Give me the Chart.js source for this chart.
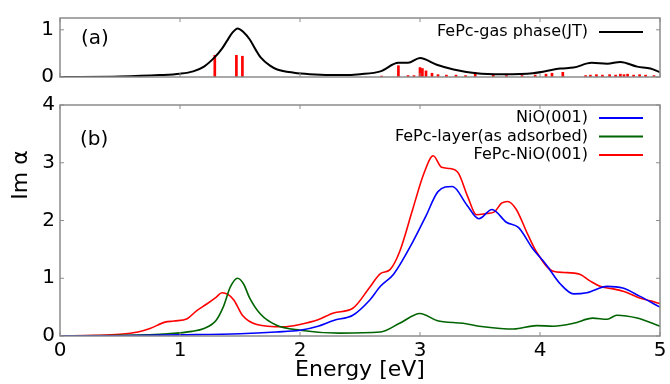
<!DOCTYPE html>
<html>
<head>
<meta charset="utf-8">
<script src="https://cdn.jsdelivr.net/npm/chart.js@4.4.1/dist/chart.umd.min.js"></script>
<style>
  html, body { margin: 0; padding: 0; background: #fff; overflow: hidden; }
  #wrap { position: relative; width: 670px; height: 384px; }
  #topBox { position: absolute; left: 0; top: 0; width: 670px; height: 100px; }
  #botBox { position: absolute; left: 0; top: 88px; width: 670px; height: 296px; }
</style>
</head>
<body>
<div id="wrap">
  <div id="topBox"><canvas id="chartA"></canvas></div>
  <div id="botBox"><canvas id="chartB"></canvas></div>
</div>
<script>
// panel (a): gas phase spectrum + oscillator sticks
const gasE = [0, 0.5, 0.83, 1.0, 1.11, 1.2, 1.29, 1.35, 1.39, 1.44, 1.48, 1.53, 1.58, 1.63, 1.67, 1.75, 1.81, 1.95, 2.08, 2.36, 2.5, 2.67, 2.82, 2.9, 3.0, 3.14, 3.28, 3.47, 3.69, 3.94, 4.17, 4.28, 4.43, 4.56, 4.67, 4.81, 4.92, 5.0];
const gasV = [0, 0.01, 0.04, 0.07, 0.12, 0.22, 0.42, 0.6, 0.76, 0.95, 1.03, 0.95, 0.8, 0.58, 0.42, 0.24, 0.16, 0.09, 0.06, 0.04, 0.06, 0.12, 0.3, 0.3, 0.4, 0.26, 0.16, 0.08, 0.06, 0.08, 0.18, 0.2, 0.3, 0.28, 0.32, 0.22, 0.18, 0.1];
const stickE = [1.29, 1.47, 1.52, 2.68, 2.82, 2.9, 2.95, 3.0, 3.02, 3.05, 3.1, 3.15, 3.22, 3.3, 3.38, 3.46, 3.61, 3.72, 3.85, 3.96, 4.05, 4.1, 4.19, 4.38, 4.42, 4.47, 4.52, 4.58, 4.63, 4.67, 4.7, 4.73, 4.78, 4.83, 4.88, 4.95];
const stickH = [0.46, 0.46, 0.44, 0.02, 0.24, 0.03, 0.03, 0.2, 0.18, 0.13, 0.08, 0.05, 0.04, 0.04, 0.03, 0.1, 0.04, 0.03, 0.03, 0.04, 0.06, 0.08, 0.1, 0.03, 0.04, 0.05, 0.04, 0.05, 0.04, 0.06, 0.05, 0.06, 0.04, 0.05, 0.04, 0.03];

// panel (b)
const nioE = [0, 0.5, 1.0, 1.5, 1.8, 2.0, 2.15, 2.28, 2.44, 2.58, 2.67, 2.78, 2.94, 3.05, 3.15, 3.27, 3.39, 3.49, 3.6, 3.72, 3.82, 3.94, 4.05, 4.17, 4.28, 4.39, 4.56, 4.69, 4.83, 5.0];
const nioV = [0, 0.005, 0.02, 0.04, 0.07, 0.1, 0.17, 0.27, 0.36, 0.62, 0.86, 1.07, 1.63, 2.08, 2.5, 2.59, 2.27, 2.03, 2.19, 1.97, 1.88, 1.51, 1.24, 0.9, 0.73, 0.75, 0.86, 0.83, 0.69, 0.5];
const layerE = [0, 0.5, 0.9, 1.1, 1.2, 1.3, 1.36, 1.42, 1.48, 1.53, 1.58, 1.67, 1.8, 2.0, 2.33, 2.67, 2.83, 3.0, 3.14, 3.36, 3.53, 3.78, 3.97, 4.11, 4.28, 4.44, 4.56, 4.64, 4.81, 5.0];
const layerV = [0, 0.01, 0.04, 0.08, 0.13, 0.27, 0.5, 0.85, 1.0, 0.9, 0.66, 0.38, 0.19, 0.1, 0.05, 0.07, 0.22, 0.39, 0.27, 0.22, 0.16, 0.12, 0.18, 0.17, 0.22, 0.31, 0.29, 0.36, 0.31, 0.17];
const adsE = [0, 0.3, 0.5, 0.65, 0.75, 0.875, 0.95, 1.06, 1.14, 1.22, 1.3, 1.35, 1.4, 1.45, 1.52, 1.64, 1.86, 2.0, 2.15, 2.28, 2.44, 2.58, 2.67, 2.75, 2.83, 2.94, 3.03, 3.11, 3.18, 3.25, 3.32, 3.4, 3.47, 3.55, 3.62, 3.68, 3.73, 3.8, 3.9, 3.97, 4.11, 4.2, 4.33, 4.42, 4.5, 4.6, 4.7, 4.83, 4.92, 5.0];
const adsV = [0, 0.01, 0.03, 0.07, 0.13, 0.24, 0.26, 0.3, 0.44, 0.55, 0.67, 0.75, 0.72, 0.62, 0.36, 0.2, 0.16, 0.2, 0.28, 0.4, 0.48, 0.84, 1.08, 1.15, 1.46, 2.2, 2.8, 3.12, 2.92, 2.9, 2.82, 2.4, 2.1, 2.12, 2.15, 2.3, 2.33, 2.2, 1.75, 1.46, 1.12, 1.1, 1.07, 0.95, 0.86, 0.82, 0.77, 0.66, 0.61, 0.56];

const xTicks = [0, 1, 2, 3, 4, 5];
const FONT = "'DejaVu Sans', sans-serif";

function pts(xs, ys) {
  return xs.map((x, i) => ({ x: x, y: ys[i] }));
}

// frame, inward ticks, legend and panel label
const decor = {
  id: 'decor',
  afterDraw(chart, args, opts) {
    const { ctx, chartArea: a, scales } = chart;
    ctx.save();
    ctx.strokeStyle = '#8c8c8c';
    ctx.lineWidth = 1.5;
    ctx.strokeRect(a.left, a.top, a.width, a.height);
    ctx.lineWidth = 1;
    ctx.beginPath();
    scales.x.ticks.forEach(t => {
      const px = scales.x.getPixelForValue(t.value);
      ctx.moveTo(px, a.top); ctx.lineTo(px, a.top + 4);
      ctx.moveTo(px, a.bottom); ctx.lineTo(px, a.bottom - 4);
    });
    scales.y.ticks.forEach(t => {
      const py = scales.y.getPixelForValue(t.value);
      ctx.moveTo(a.left, py); ctx.lineTo(a.left + 4, py);
      ctx.moveTo(a.right, py); ctx.lineTo(a.right - 4, py);
    });
    ctx.stroke();

    ctx.fillStyle = '#000';
    ctx.font = '20px ' + FONT;
    ctx.textBaseline = 'middle';
    ctx.textAlign = 'left';
    ctx.fillText(opts.panel, a.left + opts.panelX, a.top + opts.panelY);

    ctx.font = '16px ' + FONT;
    ctx.textAlign = 'right';
    let row = 0;
    chart.data.datasets.forEach(ds => {
      if (!ds.inLegend) return;
      const y = a.top + opts.legendY + row * 18.5;
      ctx.fillStyle = '#000';
      ctx.fillText(ds.label, a.right - 72, y);
      ctx.strokeStyle = ds.borderColor;
      ctx.lineWidth = 2;
      ctx.beginPath();
      ctx.moveTo(a.right - 61, y);
      ctx.lineTo(a.right - 17, y);
      ctx.stroke();
      row++;
    });

    if (opts.yTitle) {
      ctx.translate(opts.yTitleX, opts.yTitleY);
      ctx.rotate(-Math.PI / 2);
      ctx.textAlign = 'center';
      ctx.fillStyle = '#000';
      ctx.font = '22px ' + FONT;
      ctx.fillText(opts.yTitle, 0, 0);
    }
    ctx.restore();
  }
};

Chart.defaults.font.family = FONT;
Chart.defaults.color = '#000';

new Chart(document.getElementById('chartA'), {
  type: 'bar',
  data: {
    datasets: [
      {
        type: 'line',
        label: 'FePc-gas phase(JT)',
        inLegend: true,
        data: pts(gasE, gasV),
        borderColor: '#000',
        borderWidth: 2,
        pointRadius: 0,
        cubicInterpolationMode: 'monotone',
        order: 1
      },
      {
        type: 'bar',
        label: 'sticks',
        data: pts(stickE, stickH),
        backgroundColor: '#ff0000',
        barThickness: 2,
        order: 2
      }
    ]
  },
  plugins: [decor],
  options: {
    responsive: true,
    maintainAspectRatio: false,
    animation: false,
    layout: { padding: { top: 14, right: 10, left: 0, bottom: 0 } },
    plugins: {
      legend: { display: false },
      tooltip: { enabled: false },
      decor: { panel: '(a)', panelX: 21, panelY: 21, legendY: 14 }
    },
    scales: {
      x: {
        type: 'linear', min: 0, max: 5, offset: false,
        ticks: { display: false, stepSize: 1 },
        grid: { display: false, drawTicks: false, offset: false },
        border: { display: false },
        afterFit: s => { s.height = 23; }
      },
      y: {
        min: 0, max: 1.25,
        ticks: { stepSize: 1, includeBounds: false, padding: 6, font: { size: 20 } },
        grid: { display: false, drawTicks: false },
        border: { display: false },
        afterFit: s => { s.width = 60; }
      }
    }
  }
});

new Chart(document.getElementById('chartB'), {
  type: 'line',
  data: {
    datasets: [
      { label: 'NiO(001)', inLegend: true, data: pts(nioE, nioV), borderColor: '#0000ff' },
      { label: 'FePc-layer(as adsorbed)', inLegend: true, data: pts(layerE, layerV), borderColor: '#006400' },
      { label: 'FePc-NiO(001)', inLegend: true, data: pts(adsE, adsV), borderColor: '#ff0000' }
    ].map(d => Object.assign(d, { borderWidth: 1.6, pointRadius: 0, cubicInterpolationMode: 'monotone' }))
  },
  plugins: [decor],
  options: {
    responsive: true,
    maintainAspectRatio: false,
    animation: false,
    layout: { padding: { top: 12, right: 10, left: 0, bottom: 0 } },
    plugins: {
      legend: { display: false },
      tooltip: { enabled: false },
      decor: { panel: '(b)', panelX: 20, panelY: 35, legendY: 13, yTitle: 'Im α', yTitleX: 21, yTitleY: 87 }
    },
    scales: {
      x: {
        type: 'linear', min: 0, max: 5,
        afterBuildTicks: s => { s.ticks = xTicks.map(v => ({ value: v })); },
        ticks: { padding: 3, font: { size: 20 }, maxRotation: 0 },
        grid: { display: false, drawTicks: false },
        border: { display: false },
        title: { display: true, text: 'Energy [eV]', font: { size: 22 }, padding: { top: 0, bottom: 1 } },
        afterFit: s => { s.height = 48; }
      },
      y: {
        min: 0, max: 4,
        ticks: { stepSize: 1, padding: 5, font: { size: 20 } },
        grid: { display: false, drawTicks: false },
        border: { display: false },
        afterFit: s => { s.width = 60; }
      }
    }
  }
});
</script>
</body>
</html>
